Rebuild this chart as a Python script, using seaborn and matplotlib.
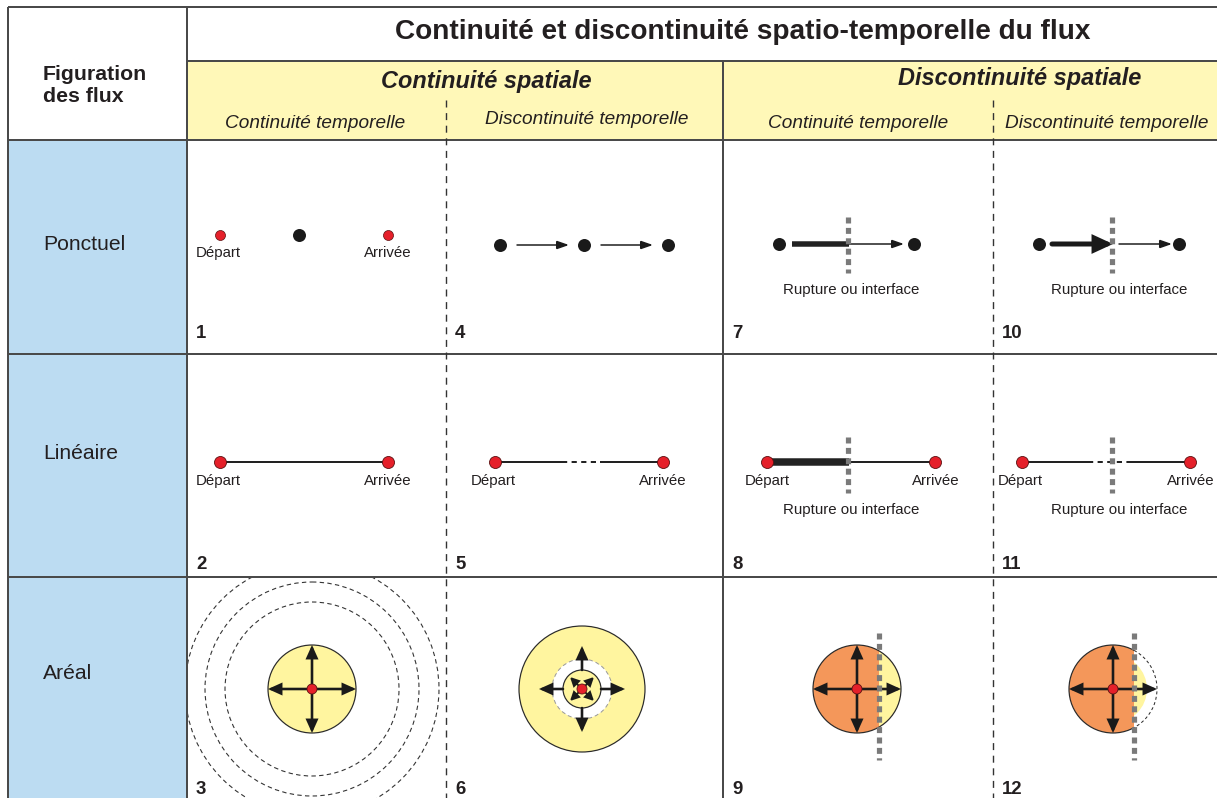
import matplotlib
matplotlib.use("Agg")
import matplotlib.pyplot as plt
import seaborn as sns
import pandas as pd
from matplotlib.patches import Circle, Rectangle, FancyArrowPatch

# ---------------- texts / labels ----------------
TITLE = "Continuité et discontinuité spatio-temporelle du flux"
ROW_HEADER = ["Figuration", "des flux"]
SPATIAL = ["Continuité spatiale", "Discontinuité spatiale"]
TEMPORAL = ["Continuité temporelle", "Discontinuité temporelle",
            "Continuité temporelle", "Discontinuité temporelle"]
ROWS = ["Ponctuel", "Linéaire", "Aréal"]
PANEL_NUMBERS = [["1", "4", "7", "10"], ["2", "5", "8", "11"], ["3", "6", "9", "12"]]
START_LABEL = "Départ"
END_LABEL = "Arrivée"
RUPTURE = "Rupture ou interface"

# ---------------- style ----------------
sns.set_theme(style="white")
plt.rcParams['font.family'] = ['Liberation Sans', 'DejaVu Sans']

W, H = 1217, 798
PT = 0.72  # points per pixel at dpi 100
TXT = '#231f20'
FRAME = '#4a4a4a'
BLUE = '#bcdcf2'
HEAD_YELLOW = '#fff8b8'
YELLOW = '#fff59f'
ORANGE = '#f4975a'
RED = '#e5202a'
GREY = '#7a7a7a'

fig = plt.figure(figsize=(W / 100, H / 100), dpi=100)
ax = fig.add_axes([0, 0, 1, 1])
ax.set_xlim(0, W)
ax.set_ylim(H, 0)
ax.axis('off')

# grid geometry (pixels)
XL, XC, XM, XR = 8, 187, 723, W
XD = [446, 993]
YT, YTI, YH = 7, 61, 140
YR = [140, 354, 577, H]
COLS = [187, 446, 723, 993, W]

# ---------------- background fills ----------------
ax.add_patch(Rectangle((XL, YH), XC - XL, H - YH, facecolor=BLUE, edgecolor='none', zorder=0))
ax.add_patch(Rectangle((XC, YTI), XR - XC, YH - YTI, facecolor=HEAD_YELLOW, edgecolor='none', zorder=0))


def hline(y, x0, x1, **kw):
    ax.plot([x0, x1], [y, y], color=FRAME, lw=2 * PT, solid_capstyle='butt', zorder=5, **kw)


def vline(x, y0, y1, **kw):
    ax.plot([x, x], [y0, y1], color=FRAME, lw=2 * PT, solid_capstyle='butt', zorder=5, **kw)


hline(YT, XL, XR)
hline(YTI, XC, XR)
hline(YH, XL, XR)
hline(YR[1], XL, XR)
hline(YR[2], XL, XR)
vline(XL, YT, H)
vline(XC, YT, H)
vline(XM, YTI, H)
for xd in XD:
    ax.plot([xd, xd], [100, H], color='#333333', lw=1.4 * PT, linestyle=(0, (5, 4)), zorder=5)

# ---------------- header texts ----------------
ax.text(743, 39, TITLE, fontsize=20.2, fontweight='bold', color=TXT, ha='center', va='baseline')
ax.text(486, 88, SPATIAL[0], fontsize=16.9, fontweight='bold', style='italic', color=TXT,
        ha='center', va='baseline')
ax.text(1020, 85, SPATIAL[1], fontsize=16.9, fontweight='bold', style='italic', color=TXT,
        ha='center', va='baseline')
for xc, yb, lab in zip([315, 587, 858, 1107], [128, 124, 128, 128], TEMPORAL):
    ax.text(xc, yb, lab, fontsize=13.7, style='italic', color=TXT, ha='center', va='baseline')

ax.text(43, 80, ROW_HEADER[0], fontsize=15.3, fontweight='bold', color=TXT, ha='left', va='baseline')
ax.text(43, 102, ROW_HEADER[1], fontsize=15.3, fontweight='bold', color=TXT, ha='left', va='baseline')
for yb, lab in zip([250, 459, 679], ROWS):
    ax.text(43, yb, lab, fontsize=15.2, color=TXT, ha='left', va='baseline')

for r, yb in enumerate([338, 569, 794]):
    for c in range(4):
        ax.text(COLS[c] + 9, yb, PANEL_NUMBERS[r][c], fontsize=13.4, fontweight='bold',
                color=TXT, ha='left', va='baseline')


# ---------------- helpers ----------------
def arrow(x0, y0, x1, y1, lw_px, hl_px, hw_px, color='#1a1a1a', z=8):
    a = FancyArrowPatch((x0, y0), (x1, y1),
                        arrowstyle=f'-|>,head_length={hl_px * PT},head_width={hw_px * PT / 2}',
                        mutation_scale=1, lw=lw_px * PT, color=color,
                        shrinkA=0, shrinkB=0, zorder=z, joinstyle='miter')
    ax.add_patch(a)


def seg(x0, x1, y, lw_px, ls='-', color='#222222', z=6):
    ax.plot([x0, x1], [y, y], color=color, lw=lw_px * PT, linestyle=ls,
            solid_capstyle='butt', dash_capstyle='butt', zorder=z)


def rupture(x, y0, y1):
    ax.plot([x, x], [y0, y1], color=GREY, lw=5.2 * PT, linestyle=(0, (1.15, 0.85)),
            dash_capstyle='butt', zorder=12)


def small_label(x, yb, s):
    ax.text(x, yb, s, fontsize=10.8, color=TXT, ha='center', va='baseline', zorder=10)


# ---------------- dots via seaborn ----------------
red_dots = pd.DataFrame({
    'x': [220, 388, 220, 388, 495, 663, 767, 935, 1022, 1190],
    'y': [235, 235, 462, 462, 462, 462, 462, 462, 462, 462],
    'r': [5, 5, 6, 6, 6, 6, 6, 6, 6, 6],
})
black_dots = pd.DataFrame({
    'x': [299, 500, 584, 668, 779, 914, 1039, 1179],
    'y': [235, 245, 245, 245, 244, 244, 244, 244],
})

sns.scatterplot(data=red_dots[red_dots.r == 5], x='x', y='y', ax=ax, s=(10 * PT) ** 2,
                color=RED, edgecolor='#5a1010', linewidth=0.5, zorder=10, legend=False)
sns.scatterplot(data=red_dots[red_dots.r == 6], x='x', y='y', ax=ax, s=(12 * PT) ** 2,
                color=RED, edgecolor='#5a1010', linewidth=0.6, zorder=10, legend=False)
sns.scatterplot(data=black_dots, x='x', y='y', ax=ax, s=(13 * PT) ** 2,
                color='#1a1a1a', edgecolor='#1a1a1a', linewidth=0, zorder=10, legend=False)
ax.set_xlim(0, W)
ax.set_ylim(H, 0)
ax.set_xlabel('')
ax.set_ylabel('')

# ---------------- row 1: ponctuel ----------------
small_label(218, 257, START_LABEL)
small_label(388, 257, END_LABEL)
arrow(517, 245, 569, 245, 1.5, 10, 7)
arrow(601, 245, 653, 245, 1.5, 10, 7)
# panel 7
seg(792, 849, 244, 5.5)
arrow(849, 244, 904, 244, 1.5, 10, 7)
rupture(848, 217, 273)
small_label(851, 294, RUPTURE)
# panel 10
arrow(1052, 244, 1113, 244, 5, 13, 12)
arrow(1119, 244, 1172, 244, 1.5, 10, 7)
rupture(1112, 217, 273)
small_label(1119, 294, RUPTURE)

# ---------------- row 2: linéaire ----------------
seg(220, 388, 462, 2)
small_label(218, 485, START_LABEL)
small_label(388, 485, END_LABEL)
# panel 5
seg(495, 562, 462, 2)
seg(562, 600, 462, 2, ls=(0, (2.6, 2.2)))
seg(600, 663, 462, 2)
small_label(493, 485, START_LABEL)
small_label(663, 485, END_LABEL)
# panel 8
seg(767, 849, 462, 7.5)
seg(849, 935, 462, 2)
rupture(848, 437, 493)
small_label(767, 485, START_LABEL)
small_label(936, 485, END_LABEL)
small_label(851, 514, RUPTURE)
# panel 11
seg(1022, 1088, 462, 2)
seg(1088, 1129, 462, 2, ls=(0, (2.6, 2.2)))
seg(1129, 1190, 462, 2)
rupture(1112, 437, 493)
small_label(1020, 485, START_LABEL)
small_label(1191, 485, END_LABEL)
small_label(1119, 514, RUPTURE)


# ---------------- row 3: aréal ----------------
def cross_arrows(cx, cy, r0, r1, lw=2.6, hl=10, hw=9):
    for dx, dy in [(0, -1), (0, 1), (-1, 0), (1, 0)]:
        arrow(cx + dx * r0, cy + dy * r0, cx + dx * r1, cy + dy * r1, lw, hl, hw)


def red_center(cx, cy, r=5):
    ax.add_patch(Circle((cx, cy), r, facecolor=RED, edgecolor='#5a1010', lw=0.6, zorder=11))


# panel 3
clip3 = Rectangle((XC, YR[2]), XD[0] - XC, H - YR[2], transform=ax.transData)
for rr in [87, 107, 127]:
    c = Circle((312, 689), rr, facecolor='none', edgecolor='#333333', lw=1.1 * PT,
               linestyle=(0, (4, 3)), zorder=3)
    ax.add_patch(c)
    c.set_clip_path(clip3)
ax.add_patch(Circle((312, 689), 44, facecolor=YELLOW, edgecolor='#2a2a2a', lw=1.2 * PT, zorder=4))
cross_arrows(312, 689, 0, 44)
red_center(312, 689)

# panel 6
ax.add_patch(Circle((582, 689), 63, facecolor=YELLOW, edgecolor='#2a2a2a', lw=1.2 * PT, zorder=4))
ax.add_patch(Circle((582, 689), 30, facecolor='white', edgecolor='#9a9a9a', lw=1.0 * PT,
                    linestyle=(0, (4, 3)), zorder=5))
ax.add_patch(Circle((582, 689), 19, facecolor=YELLOW, edgecolor='#2a2a2a', lw=1.2 * PT, zorder=6))
cross_arrows(582, 689, 19, 43)
for dx, dy in [(1, 1), (1, -1), (-1, 1), (-1, -1)]:
    arrow(582 + dx * 4, 689 + dy * 4, 582 + dx * 12, 689 + dy * 12, 2.0, 7, 7)
red_center(582, 689)

# panel 9
ax.add_patch(Circle((857, 689), 44, facecolor=ORANGE, edgecolor='none', zorder=4))
yel9 = Circle((857, 689), 44, facecolor=YELLOW, edgecolor='none', zorder=5)
ax.add_patch(yel9)
yel9.set_clip_path(Rectangle((879, 600), 100, 200, transform=ax.transData))
ax.add_patch(Circle((857, 689), 44, facecolor='none', edgecolor='#2a2a2a', lw=1.2 * PT, zorder=6))
cross_arrows(857, 689, 0, 44)
red_center(857, 689)
rupture(879, 633, 760)

# panel 12
left12 = Rectangle((1000, 600), 1134 - 1000, 200, transform=ax.transData)
right12 = Rectangle((1134, 600), 100, 200, transform=ax.transData)
org12 = Circle((1113, 689), 44, facecolor=ORANGE, edgecolor='#2a2a2a', lw=1.2 * PT, zorder=4)
ax.add_patch(org12)
org12.set_clip_path(left12)
yel12 = Circle((1113, 689), 34, facecolor=YELLOW, edgecolor='none', zorder=4)
ax.add_patch(yel12)
yel12.set_clip_path(right12)
dash12 = Circle((1113, 689), 44, facecolor='none', edgecolor='#2a2a2a', lw=1.0 * PT,
                linestyle=(0, (3, 2.5)), zorder=5)
ax.add_patch(dash12)
dash12.set_clip_path(right12)
cross_arrows(1113, 689, 0, 44)
red_center(1113, 689)
rupture(1134, 633, 760)

fig.savefig('out.png', dpi=100, facecolor='white')
